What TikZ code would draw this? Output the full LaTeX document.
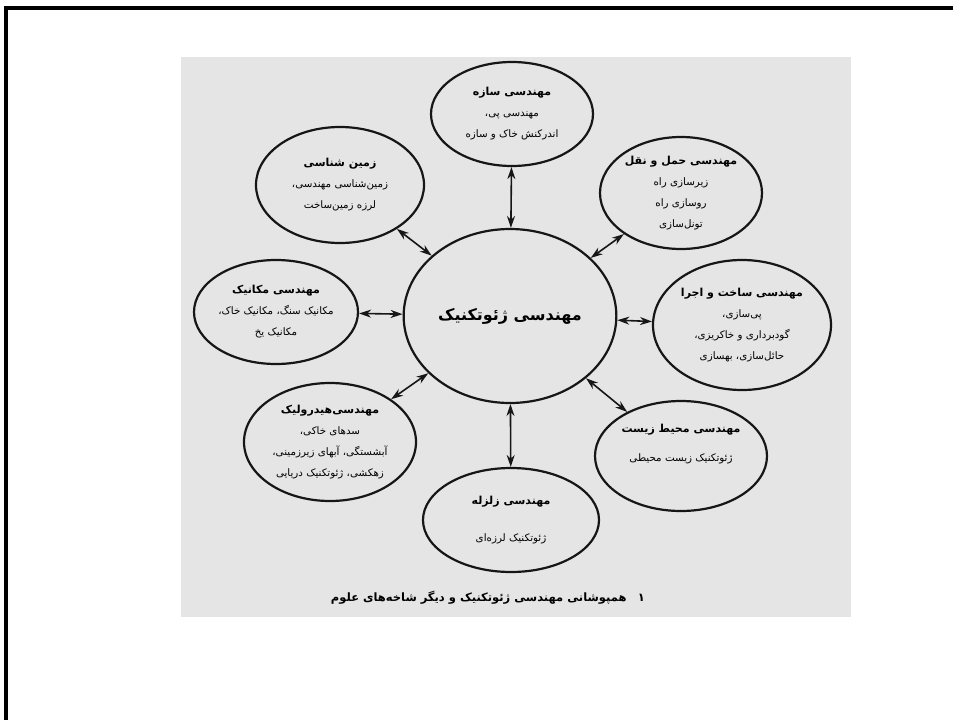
\documentclass[tikz,border=0pt]{standalone}
\usepackage{fontspec}
\usetikzlibrary{shapes.geometric,arrows.meta}
\TeXXeTstate=1
\newfontfamily\arabicfont[Script=Arabic]{DejaVu Sans}
\definecolor{scangray}{RGB}{229,229,229}
\definecolor{inkblack}{RGB}{22,22,22}
\newcommand{\fa}[1]{\beginR #1\endR}
\newcommand{\fahead}[1]{{\bfseries\fontsize{11}{21}\selectfont\beginR #1\endR}}

\begin{document}
\begin{tikzpicture}[x=1pt,y=-1pt,
    branch/.style={draw=inkblack, ellipse, line width=2.2pt, inner sep=0pt, align=center,
        font=\arabicfont\fontsize{10.3}{21}\selectfont},
    link/.style={{Stealth[length=12pt,width=8pt]}-{Stealth[length=12pt,width=8pt]},
        draw=inkblack, line width=1.6pt}]
    \useasboundingbox (0,0) rectangle (953,720);

    % slide frame and scanned page
    \draw[black, line width=4pt] (6,722) -- (6,8) -- (955,8);
    \fill[scangray] (181,57) rectangle (851,617);

    % centre
    \node[draw=inkblack, ellipse, line width=2.2pt, minimum width=170pt, minimum height=174pt,
        font=\arabicfont\bfseries\fontsize{16}{20}\selectfont] (geo) at (510,316) {\fa{مهندسی ژئوتکنیک}};

    % branches
    \node[branch, minimum width=162pt, minimum height=104pt] (saze) at (512,114)
        {\fahead{مهندسی سازه}\\ \fa{مهندسی پی،}\\ \fa{اندرکنش خاک و سازه}};
    \node[branch, minimum width=162pt, minimum height=112pt] (haml) at (681,193)
        {\fahead{مهندسی حمل و نقل}\\ \fa{زیرسازی راه}\\ \fa{روسازی راه}\\ \fa{تونل‌سازی}};
    \node[branch, minimum width=168pt, minimum height=116pt] (zamin) at (340,185)
        {\fahead{زمین شناسی}\\ \fa{زمین‌شناسی مهندسی،}\\ \fa{لرزه زمین‌ساخت}};
    \node[branch, minimum width=164pt, minimum height=104pt] (mekanik) at (276,312)
        {\fahead{مهندسی مکانیک}\\ \fa{مکانیک سنگ، مکانیک خاک،}\\ \fa{مکانیک یخ}};
    \node[branch, minimum width=178pt, minimum height=130pt] (sakht) at (742,325)
        {\fahead{مهندسی ساخت و اجرا}\\ \fa{پی‌سازی،}\\ \fa{گودبرداری و خاکریزی،}\\ \fa{حائل‌سازی، بهسازی}};
    \node[branch, minimum width=172pt, minimum height=118pt] (hydro) at (330,442)
        {\fahead{مهندسی‌هیدرولیک}\\ \fa{سدهای خاکی،}\\ \fa{آبشستگی، آبهای زیرزمینی،}\\ \fa{زهکشی، ژئوتکنیک دریایی}};
    \node[branch, minimum width=172pt, minimum height=110pt] (mohit) at (681,456)
        {\fahead{مهندسی محیط زیست}\\[8pt] \fa{ژئوتکنیک زیست محیطی}\\[6pt] {}};
    \node[branch, minimum width=176pt, minimum height=104pt] (zelzele) at (511,520)
        {\fahead{مهندسی زلزله}\\[16pt] \fa{ژئوتکنیک لرزه‌ای}};

    % links
    \foreach \b in {saze,haml,zamin,mekanik,sakht,hydro,mohit,zelzele}
        \draw[link] (geo) -- (\b);

    % caption
    \node[font=\arabicfont\bfseries\fontsize{11.5}{14}\selectfont] (caption) at (488,598)
        {\fa{۱\quad همپوشانی مهندسی ژئوتکنیک و دیگر شاخه‌های علوم}};
\end{tikzpicture}
\end{document}
